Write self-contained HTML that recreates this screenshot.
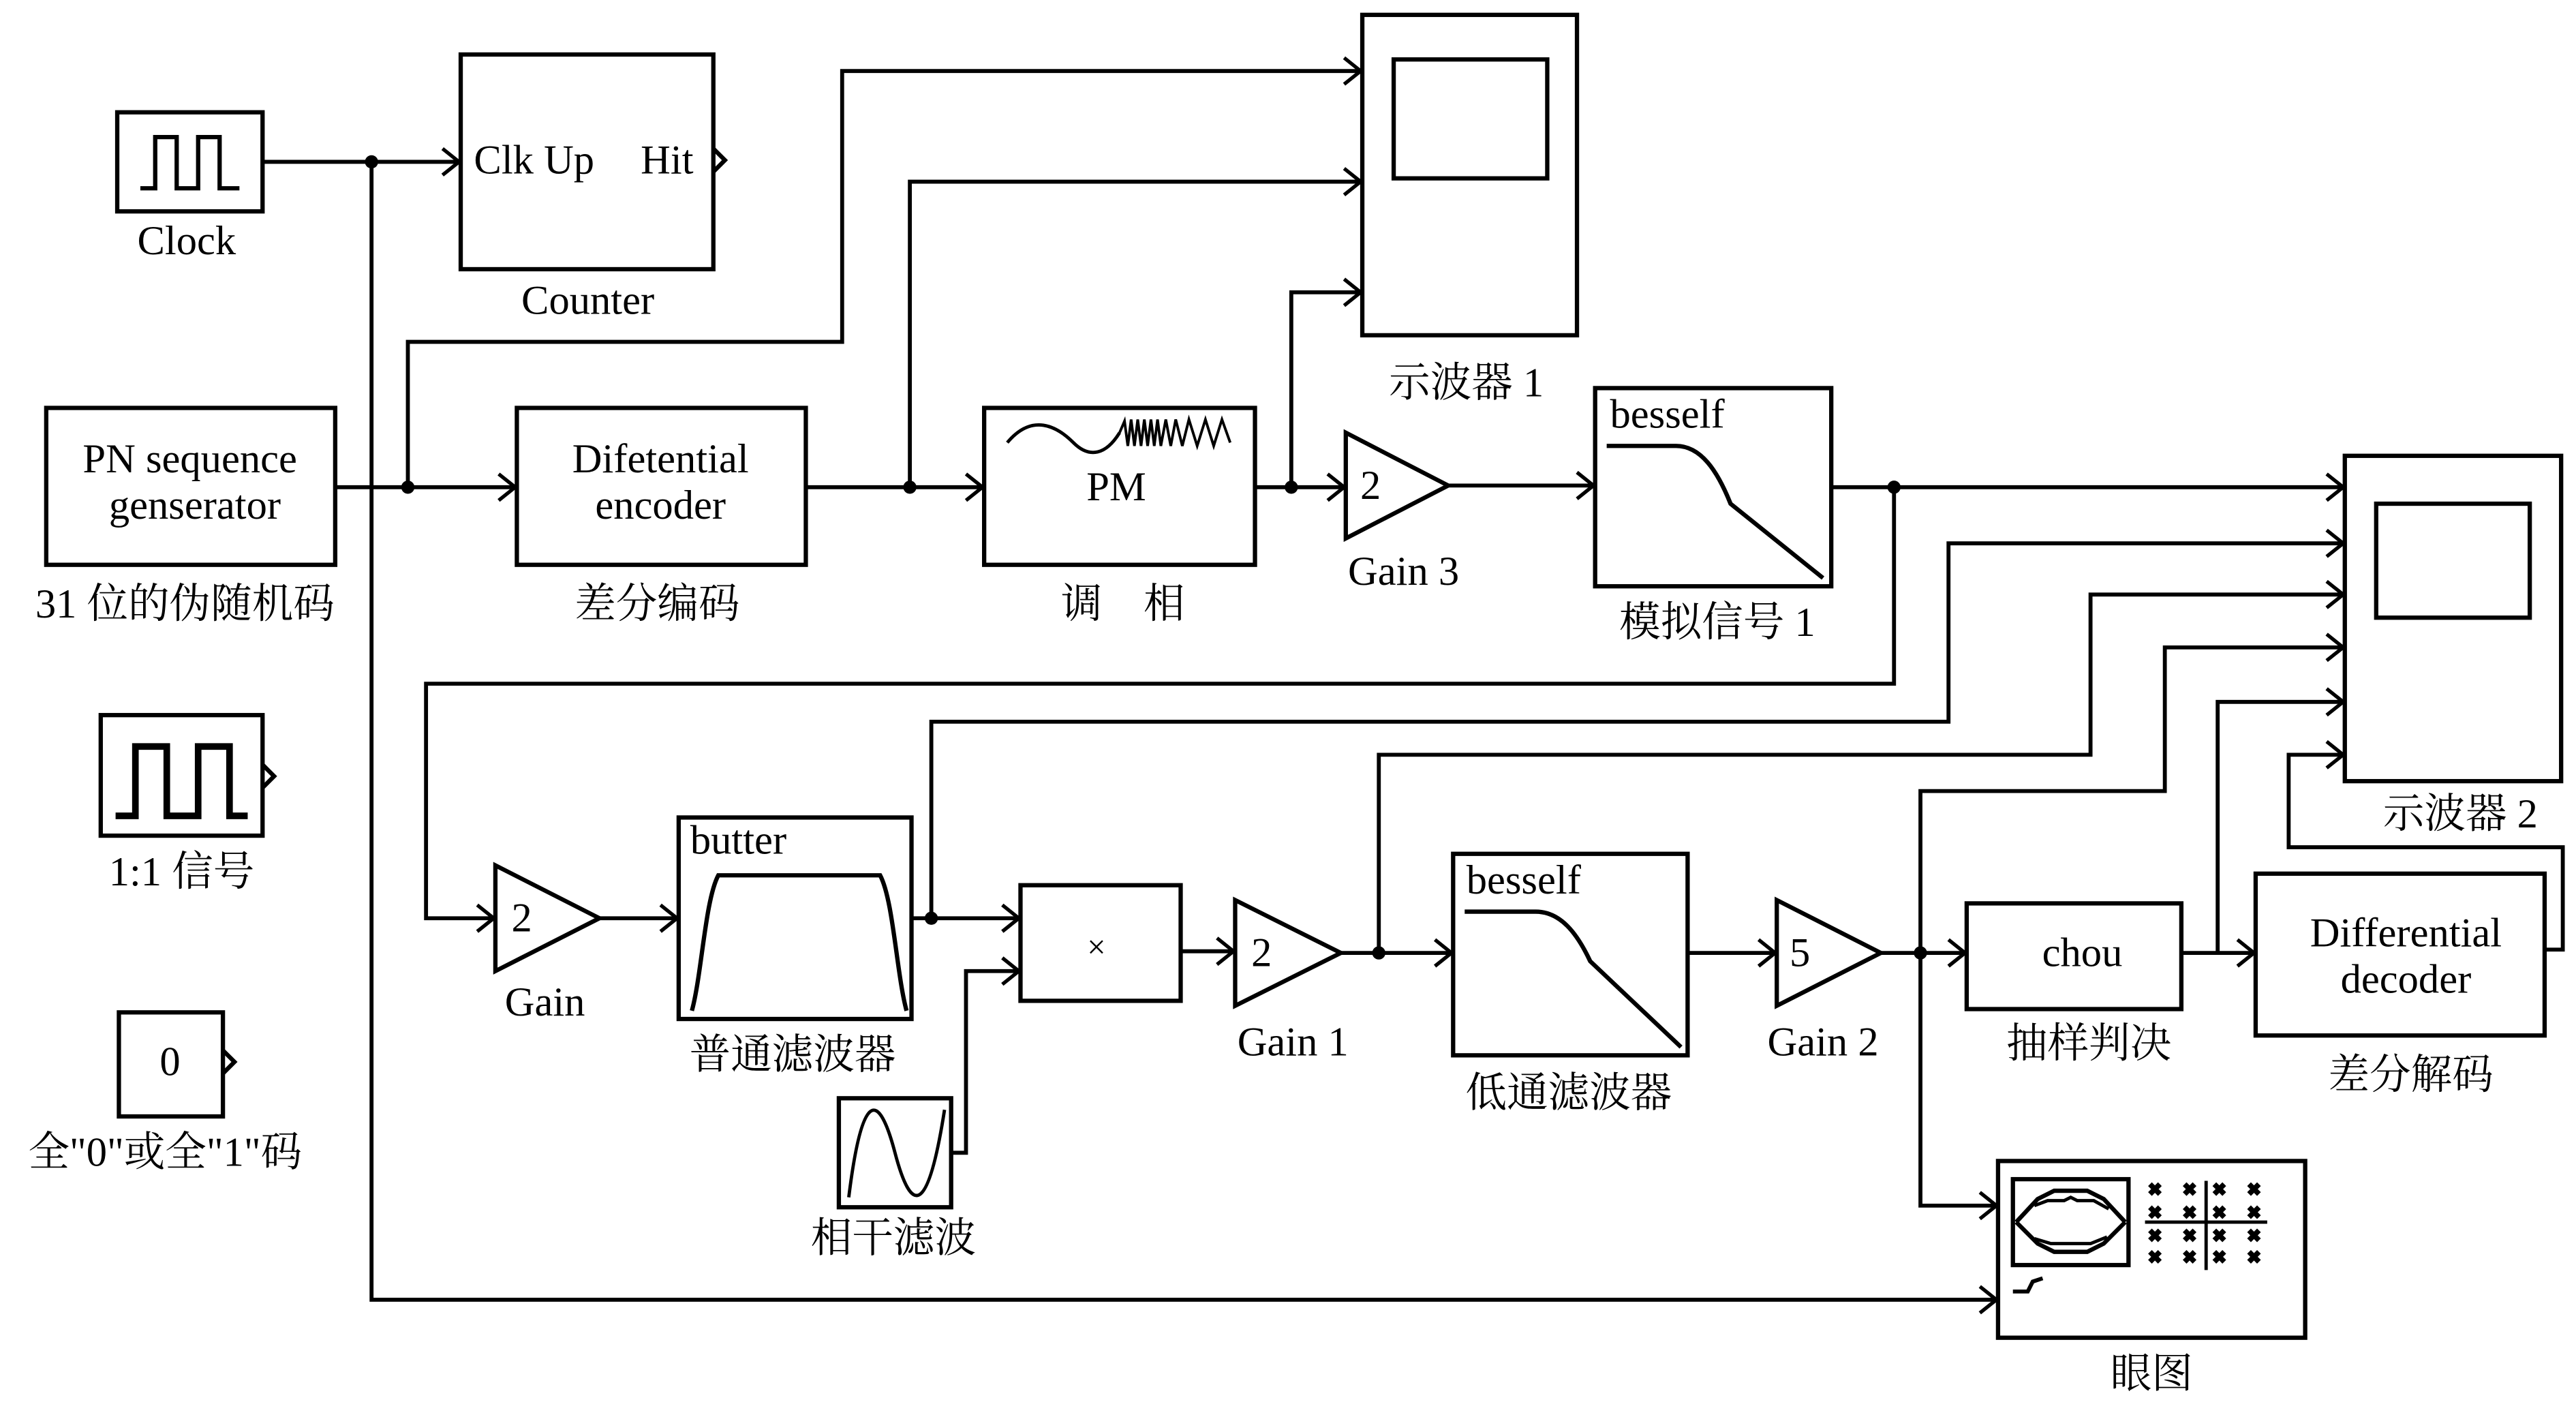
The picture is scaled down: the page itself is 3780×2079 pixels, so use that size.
<!DOCTYPE html>
<html><head><meta charset="utf-8"><style>
html,body{margin:0;padding:0;background:#fff}
svg{display:block}
text{font-family:"Liberation Serif","Noto Serif CJK SC","Noto Sans CJK SC",serif;fill:#000}
</style></head><body>
<svg width="3780" height="2079" viewBox="0 0 1560 858" xmlns="http://www.w3.org/2000/svg">
<defs>
<marker id="a" markerUnits="userSpaceOnUse" markerWidth="14" markerHeight="20" refX="11" refY="9" orient="auto">
<path d="M1,1 L11,9 L1,17" fill="none" stroke="#000" stroke-width="2.2"/>
</marker>
</defs>
<g fill="none" stroke="#000" stroke-width="2.6">
<rect x="71" y="68" width="88" height="60"/>
<polyline points="85,114 94,114 94,83 107,83 107,114 120,114 120,83 133,83 133,114 145,114"/>
<rect x="279" y="33" width="153" height="130"/>
<polyline points="432,90 439,97 432,104"/>
<rect x="825" y="9" width="130" height="194"/>
<rect x="844" y="36" width="93" height="72"/>
<rect x="28" y="247" width="175" height="95"/>
<rect x="313" y="247" width="175" height="95"/>
<rect x="596" y="247" width="164" height="95"/>
<path d="M610,268 C625,250 640,258 650,268 C660,278 670,275 678,262" stroke-width="2"/>
<polyline stroke-width="1.6" points="678,262 681,255 683,270 685,254 687,270 689,254 691,270 693,254 695,270 697,254 699,270 701,254 703,270 706,254 709,270 712,254 716,270 720,254 725,270 730,254 735,270 740,254 745,268"/>
<polygon points="815,262 815,326 877,294"/>
<rect x="966" y="235" width="143" height="120"/>
<path d="M973,270 L1015,270 C1030,270 1040,285 1048,305 L1104,350"/>
<rect x="1420" y="276" width="131" height="197"/>
<rect x="1439" y="305" width="93" height="69"/>
<rect x="61" y="433" width="98" height="73"/>
<polyline stroke-width="4" points="70,494 82,494 82,452 101,452 101,494 120,494 120,452 139,452 139,494 150,494"/>
<polyline points="159,463 166,470 159,477"/>
<rect x="72" y="613" width="63" height="63"/>
<polyline points="135,636 142,643 135,650"/>
<polygon points="300,524 300,588 363,556"/>
<rect x="411" y="495" width="141" height="122"/>
<path d="M419,612 C425,590 427,545 435,530 L533,530 C541,545 543,590 549,612"/>
<rect x="618" y="536" width="97" height="70"/>
<rect x="508" y="665" width="68" height="66"/>
<path d="M514,725 C522,660 532,660 542,698 C552,736 562,736 572,672" stroke-width="2"/>
<polygon points="748,545 748,609 812,577"/>
<rect x="880" y="517" width="142" height="122"/>
<path d="M887,552 L930,552 C945,552 955,565 963,582 L1018,634"/>
<polygon points="1076,545 1076,609 1139,577"/>
<rect x="1191" y="547" width="130" height="64"/>
<rect x="1366" y="529" width="175" height="98"/>
<rect x="1210" y="703" width="186" height="107"/>
<rect x="1219" y="714" width="70" height="52" stroke-width="2.6"/>
<path d="M1221,740 L1234,726 L1244,721 L1264,721 L1274,726 L1287,740 M1221,740 L1234,753 L1244,758 L1264,758 L1274,753 L1287,740" stroke-width="2.6"/>
<path d="M1232,730 L1240,727 L1250,727 L1254,725 L1258,727 L1268,727 L1277,732 M1232,750 L1242,753 L1266,753 L1276,749" stroke-width="2"/>
<path d="M1299,740 L1373,740 M1336,715 L1336,769" stroke-width="2"/>
<path d="M1219,782 L1228,782 L1231,776 L1237,774" stroke-width="2.4"/>
</g>
<g stroke="#000" stroke-width="3.2" fill="none">
<path d="M1302,717 l6,6 m0,-6 l-6,6 M1323,717 l6,6 m0,-6 l-6,6 M1341,717 l6,6 m0,-6 l-6,6 M1362,717 l6,6 m0,-6 l-6,6"/>
<path d="M1302,731 l6,6 m0,-6 l-6,6 M1323,731 l6,6 m0,-6 l-6,6 M1341,731 l6,6 m0,-6 l-6,6 M1362,731 l6,6 m0,-6 l-6,6"/>
<path d="M1302,745 l6,6 m0,-6 l-6,6 M1323,745 l6,6 m0,-6 l-6,6 M1341,745 l6,6 m0,-6 l-6,6 M1362,745 l6,6 m0,-6 l-6,6"/>
<path d="M1302,758 l6,6 m0,-6 l-6,6 M1323,758 l6,6 m0,-6 l-6,6 M1341,758 l6,6 m0,-6 l-6,6 M1362,758 l6,6 m0,-6 l-6,6"/>
</g>
<g fill="none" stroke="#000" stroke-width="2.4">
<line x1="159" y1="98" x2="278" y2="98" marker-end="url(#a)"/>
<polyline points="225,98 225,787 1209,787" marker-end="url(#a)"/>
<line x1="203" y1="295" x2="312" y2="295" marker-end="url(#a)"/>
<polyline points="247,295 247,207 510,207 510,43 824,43" marker-end="url(#a)"/>
<line x1="488" y1="295" x2="595" y2="295" marker-end="url(#a)"/>
<polyline points="551,295 551,110 824,110" marker-end="url(#a)"/>
<line x1="760" y1="295" x2="814" y2="295" marker-end="url(#a)"/>
<polyline points="782,295 782,177 824,177" marker-end="url(#a)"/>
<line x1="877" y1="294" x2="965" y2="294" marker-end="url(#a)"/>
<line x1="1109" y1="295" x2="1419" y2="295" marker-end="url(#a)"/>
<polyline points="1147,295 1147,414 258,414 258,556 299,556" marker-end="url(#a)"/>
<line x1="363" y1="556" x2="410" y2="556" marker-end="url(#a)"/>
<line x1="552" y1="556" x2="617" y2="556" marker-end="url(#a)"/>
<polyline points="564,556 564,437 1180,437 1180,329 1419,329" marker-end="url(#a)"/>
<polyline points="576,698 585,698 585,588 617,588" marker-end="url(#a)"/>
<line x1="715" y1="576" x2="747" y2="576" marker-end="url(#a)"/>
<line x1="812" y1="577" x2="879" y2="577" marker-end="url(#a)"/>
<polyline points="835,577 835,457 1266,457 1266,360 1419,360" marker-end="url(#a)"/>
<line x1="1022" y1="577" x2="1075" y2="577" marker-end="url(#a)"/>
<line x1="1139" y1="577" x2="1190" y2="577" marker-end="url(#a)"/>
<polyline points="1163,577 1163,479 1311,479 1311,392 1419,392" marker-end="url(#a)"/>
<polyline points="1163,577 1163,730 1209,730" marker-end="url(#a)"/>
<line x1="1321" y1="577" x2="1365" y2="577" marker-end="url(#a)"/>
<polyline points="1343,577 1343,425 1419,425" marker-end="url(#a)"/>
<polyline points="1541,575 1552,575 1552,513 1386,513 1386,457 1419,457" marker-end="url(#a)"/>
</g>
<g fill="#000">
<circle cx="225" cy="98" r="4"/><circle cx="247" cy="295" r="4"/><circle cx="551" cy="295" r="4"/>
<circle cx="782" cy="295" r="4"/><circle cx="1147" cy="295" r="4"/><circle cx="564" cy="556" r="4"/>
<circle cx="835" cy="577" r="4"/><circle cx="1163" cy="577" r="4"/>
</g>
<g font-size="25">
<text x="113" y="154" text-anchor="middle">Clock</text>
<text x="287" y="105">Clk Up</text>
<text x="388" y="105">Hit</text>
<text x="356" y="190" text-anchor="middle">Counter</text>
<text x="888" y="240" text-anchor="middle">示波器 1</text>
<text x="115" y="286" text-anchor="middle">PN  sequence</text>
<text x="118" y="314" text-anchor="middle">genserator</text>
<text x="112" y="374" text-anchor="middle">31 位的伪随机码</text>
<text x="400" y="286" text-anchor="middle">Difetential</text>
<text x="400" y="314" text-anchor="middle">encoder</text>
<text x="398" y="374" text-anchor="middle">差分编码</text>
<text x="676" y="303" text-anchor="middle">PM</text>
<text x="680" y="374" text-anchor="middle">调　相</text>
<text x="830" y="302" text-anchor="middle">2</text>
<text x="850" y="354" text-anchor="middle">Gain 3</text>
<text x="975" y="259">besself</text>
<text x="1040" y="385" text-anchor="middle">模拟信号 1</text>
<text x="1490" y="501" text-anchor="middle">示波器 2</text>
<text x="110" y="536" text-anchor="middle">1:1 信号</text>
<text x="103" y="651" text-anchor="middle">0</text>
<text x="100" y="706" text-anchor="middle">全"0"或全"1"码</text>
<text x="316" y="564" text-anchor="middle">2</text>
<text x="330" y="615" text-anchor="middle">Gain</text>
<text x="418" y="517">butter</text>
<text x="480" y="647" text-anchor="middle">普通滤波器</text>
<text x="664" y="580" text-anchor="middle" font-size="20">×</text>
<text x="541" y="758" text-anchor="middle">相干滤波</text>
<text x="764" y="585" text-anchor="middle">2</text>
<text x="783" y="639" text-anchor="middle">Gain 1</text>
<text x="888" y="541">besself</text>
<text x="950" y="670" text-anchor="middle">低通滤波器</text>
<text x="1090" y="585" text-anchor="middle">5</text>
<text x="1104" y="639" text-anchor="middle">Gain 2</text>
<text x="1261" y="585" text-anchor="middle">chou</text>
<text x="1265" y="640" text-anchor="middle">抽样判决</text>
<text x="1457" y="573" text-anchor="middle">Differential</text>
<text x="1457" y="601" text-anchor="middle">decoder</text>
<text x="1460" y="659" text-anchor="middle">差分解码</text>
<text x="1303" y="840" text-anchor="middle">眼图</text>
</g>
</svg>
</body></html>
